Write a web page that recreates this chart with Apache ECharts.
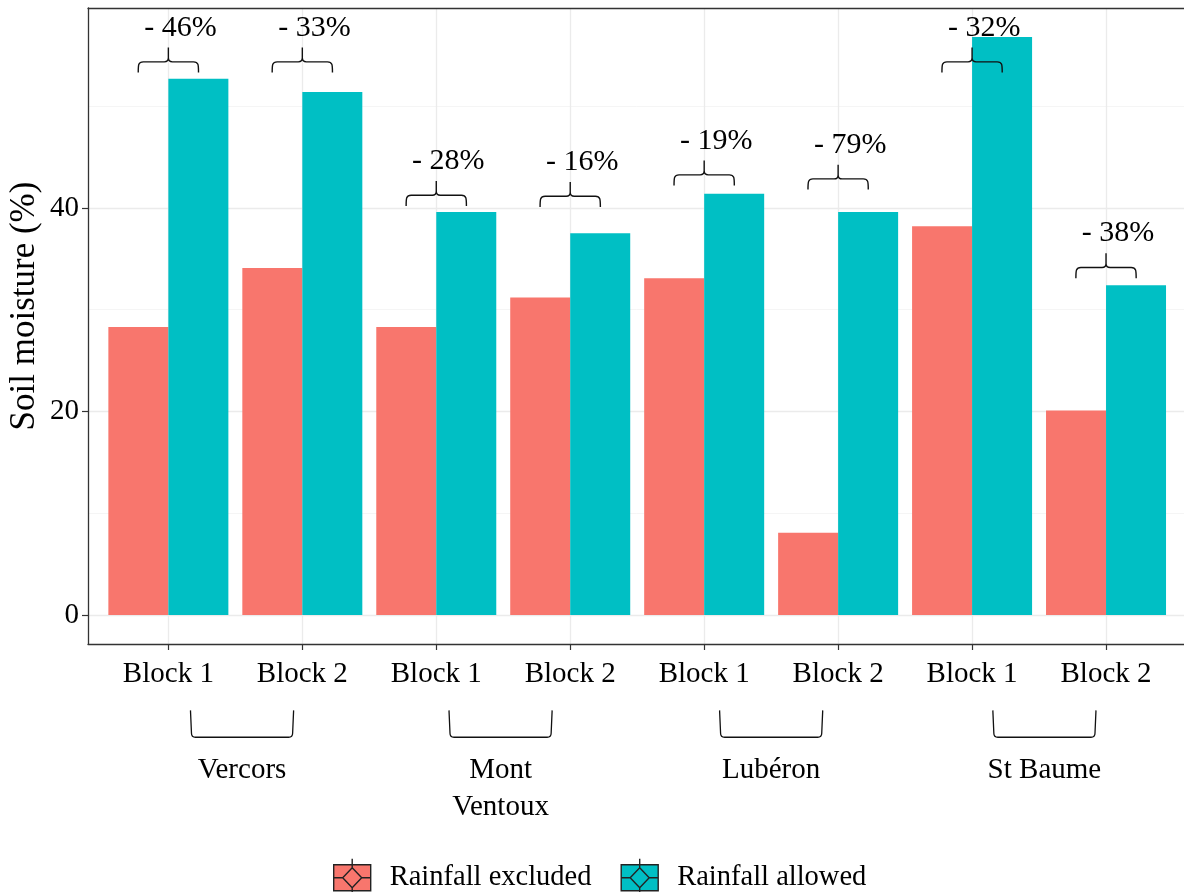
<!DOCTYPE html>
<html><head><meta charset="utf-8">
<script src="https://cdn.jsdelivr.net/npm/echarts@6/dist/echarts.min.js"></script>
<style>html,body{margin:0;padding:0;background:#fff}#c{width:1184px;height:892px}</style>
</head><body><div id="c"></div>
<script>
const blocks = ['Block 1','Block 2','Block 1','Block 2','Block 1','Block 2','Block 1','Block 2'];
const rainfallExcluded = [28.3, 34.1, 28.3, 31.2, 33.1, 8.1, 38.2, 20.1];
const rainfallAllowed = [52.7, 51.4, 39.6, 37.5, 41.4, 39.6, 56.8, 32.4];
const diffLabels = ['- 46%','- 33%','- 28%','- 16%','- 19%','- 79%','- 32%','- 38%'];
const bracketBase = [53.3, 53.3, 40.2, 40.1, 42.2, 41.8, 53.3, 33.1];
const sites = ['Vercors','Mont\nVentoux','Lubéron','St Baume'];
const siteCenters = [1.55, 3.48, 5.5, 7.54];
const yTicks = [0, 20, 40];
const yMinor = [10, 30, 50];
const seriesNames = ['Rainfall excluded','Rainfall allowed'];
const colors = ['#F8766D','#00BFC4'];

const FONT = '"Liberation Serif", "Times New Roman", serif';
const positions = blocks.map((b, i) => i + 1);
const YMIN = -2.84, YMAX = 59.64;

const chart = echarts.init(document.getElementById('c'), null, {renderer: 'canvas'});

const legendIcon = 'path://M0,6 L37,6 L37,32 L0,32 Z M18.5,9 L28,19 L18.5,29 L9,19 Z M18.5,0 L18.5,9 M18.5,29 L18.5,38 M0,19 L9,19 M28,19 L37,19';

function bracketTop(params, api) {
  const x = api.value(0), b = api.value(1), idx = api.value(2);
  const L = api.coord([x - 0.225, b]);
  const R = api.coord([x + 0.225, b]);
  const yb = L[1];
  const yh = api.coord([x, b + 1.05])[1];
  const yt = api.coord([x, b + 2.45])[1];
  const yText = api.coord([x, b + 4.4])[1];
  const xC = api.coord([x, b])[0];
  const xTxt = api.coord([x + 0.09, b])[0];
  const xL = L[0], xR = R[0];
  const d = `M${xL},${yb} C${xL},${yh+3} ${xL},${yh} ${xL+5},${yh} L${xC-4},${yh} Q${xC},${yh} ${xC},${yh-4} L${xC},${yt} M${xC},${yh-4} Q${xC},${yh} ${xC+4},${yh} L${xR-5},${yh} C${xR},${yh} ${xR},${yh+3} ${xR},${yb}`;
  return {
    type: 'group',
    children: [
      {type: 'path', shape: {pathData: d}, style: {stroke: '#111', fill: 'none', lineWidth: 1.4}},
      {type: 'text', x: xTxt, y: yText, style: {text: diffLabels[idx], fontSize: 30, fontFamily: FONT, fill: '#000', align: 'center', verticalAlign: 'middle'}}
    ]
  };
}

function bracketGroup(params, api) {
  const c = api.value(0), idx = api.value(2);
  const L = api.coord([c - 0.385, -9.36]);
  const R = api.coord([c + 0.385, -9.36]);
  const yT = L[1];
  const yB = api.coord([c, -12.0])[1];
  const yText = api.coord([c, -13.4])[1];
  const xC = api.coord([c, 0])[0];
  const xL = L[0], xR = R[0];
  const d = `M${xL},${yT} L${xL+1},${yB-4} Q${xL+1},${yB} ${xL+5},${yB} L${xR-5},${yB} Q${xR-1},${yB} ${xR-1},${yB-4} L${xR},${yT}`;
  return {
    type: 'group',
    children: [
      {type: 'path', shape: {pathData: d}, style: {stroke: '#111', fill: 'none', lineWidth: 1.3}},
      {type: 'text', x: xC, y: yText, style: {text: sites[idx], fontSize: 29, fontFamily: FONT, fill: '#000', align: 'center', verticalAlign: 'top', lineHeight: 37}}
    ]
  };
}

const option = {
  animation: false,
  backgroundColor: '#fff',
  textStyle: {fontFamily: FONT},
  grid: {left: 88, top: 8, right: -2.4, height: 636, show: false, containLabel: false, outerBoundsMode: 'none'},
  legend: {
    data: seriesNames,
    left: 328, top: 853,
    itemWidth: 37, itemHeight: 38, itemGap: 29,
    icon: legendIcon,
    itemStyle: {borderColor: '#222', borderWidth: 1.4},
    textStyle: {fontSize: 28.5, fontFamily: FONT, color: '#000', padding: [0, 0, 0, 14]}
  },
  xAxis: [{
    type: 'value', min: 0.4, max: 8.6, position: 'bottom',
    axisLine: {show: true, onZero: false, lineStyle: {color: '#333', width: 1.3}},
    axisTick: {show: true, customValues: positions, length: 6, lineStyle: {color: '#333', width: 1.2}},
    axisLabel: {show: true, customValues: positions, formatter: v => blocks[Math.round(v) - 1], fontSize: 29, fontFamily: FONT, color: '#000', margin: 16},
    splitLine: {show: true, lineStyle: {color: '#EBEBEB', width: 1.3}}
  }, {
    type: 'value', min: 0.4, max: 8.6, position: 'top',
    axisLine: {show: true, onZero: false, lineStyle: {color: '#333', width: 1.3}},
    axisTick: {show: false}, axisLabel: {show: false}, splitLine: {show: false}
  }],
  yAxis: [{
    type: 'value', min: YMIN, max: YMAX,
    name: 'Soil moisture (%)', nameLocation: 'middle', nameRotate: 90, nameGap: 46, nameMoveOverlap: false,
    nameTextStyle: {fontSize: 35, fontFamily: FONT, color: '#000', padding: [0, 0, 0, 40]},
    axisLine: {show: true, onZero: false, lineStyle: {color: '#333', width: 1.3}},
    axisTick: {show: true, customValues: yTicks, length: 6, lineStyle: {color: '#333', width: 1.2}},
    axisLabel: {show: true, customValues: yTicks, fontSize: 29, fontFamily: FONT, color: '#000', margin: 9},
    splitLine: {show: true, lineStyle: {color: '#EBEBEB', width: 1.3}}
  }, {
    type: 'value', min: YMIN, max: YMAX, position: 'left',
    axisLine: {show: false},
    axisTick: {show: false, customValues: yMinor},
    axisLabel: {show: false},
    splitLine: {show: true, lineStyle: {color: '#F2F2F2', width: 0.8}}
  }],
  series: [
    {
      name: seriesNames[0], type: 'bar', barWidth: 60, barGap: '0%',
      itemStyle: {color: colors[0]},
      data: positions.map((p, i) => [p, rainfallExcluded[i]]), z: 2
    },
    {
      name: seriesNames[1], type: 'bar', barWidth: 60, barGap: '0%',
      itemStyle: {color: colors[1]},
      data: positions.map((p, i) => [p, rainfallAllowed[i]]), z: 2
    },
    {
      type: 'custom', renderItem: bracketTop, clip: false, z: 5, silent: true,
      data: positions.map((p, i) => [p, bracketBase[i], i])
    },
    {
      type: 'custom', renderItem: bracketGroup, clip: false, z: 5, silent: true,
      data: siteCenters.map((c, i) => [c, -9.36, i])
    }
  ]
};
chart.setOption(option);
</script></body></html>
